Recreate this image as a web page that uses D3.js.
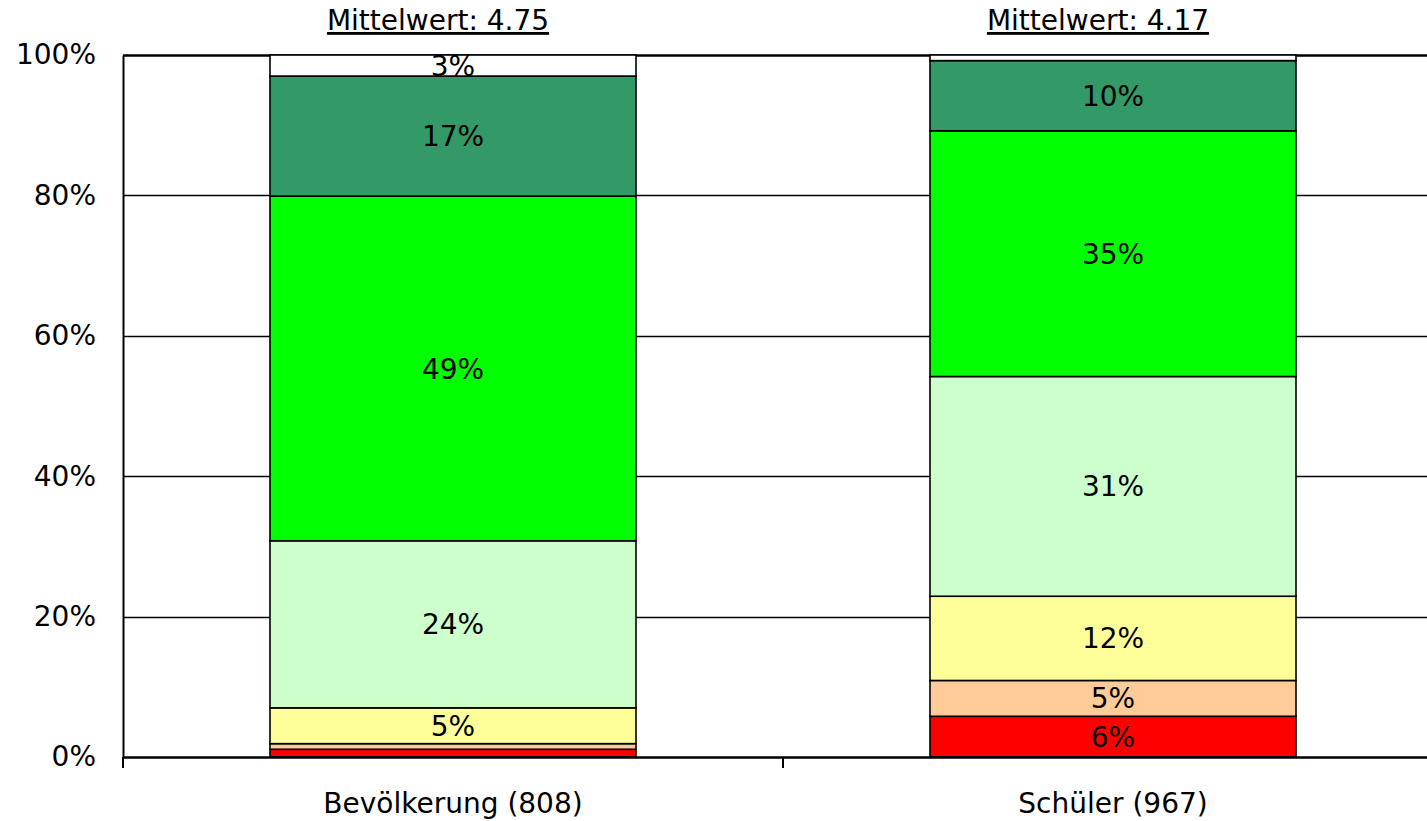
<!DOCTYPE html>
<html>
<head>
<meta charset="utf-8">
<script src="https://cdn.jsdelivr.net/npm/d3@7"></script>
<style>
html,body{margin:0;padding:0;background:#fff;}
svg{display:block;}
text{font-family:"DejaVu Sans",sans-serif;fill:#000;}
</style>
</head>
<body>
<svg id="chart" width="1427" height="821"></svg>
<script>
// Data
const categories = ["Bevölkerung (808)", "Schüler (967)"];
const meanLabels = ["Mittelwert: 4.75", "Mittelwert: 4.17"];
const seriesKeys = ["s1", "s2", "s3", "s4", "s5", "s6", "s7"];
const seriesColors = ["#FF0000", "#FFCC99", "#FFFF99", "#CCFFCC", "#00FF00", "#339966", "#FFFFFF"];
const valuesBevoelkerung = [1.1, 0.8, 5.1, 23.8, 49.1, 17.1, 3.0];
const valuesSchueler = [5.8, 5.1, 12.0, 31.3, 35.0, 10.0, 0.8];
const yTicks = [0, 20, 40, 60, 80, 100];

const rows = [valuesBevoelkerung, valuesSchueler].map((vals, i) => {
  const r = {cat: categories[i]};
  seriesKeys.forEach((k, j) => r[k] = vals[j]);
  return r;
});

const svg = d3.select("#chart");
const margin = {left: 123, top: 55, bottom: 64};
const plotH = 821 - margin.top - margin.bottom; // 702
const bandW = 660;

const x = d3.scaleBand().domain(categories).range([margin.left, margin.left + 2 * bandW]).paddingInner(0).paddingOuter(0);
const y = d3.scaleLinear().domain([0, 100]).range([margin.top + plotH, margin.top]);
const barW = 366;

const stack = d3.stack().keys(seriesKeys);
const stacked = stack(rows);

const fs = 28;

// gridlines
svg.append("g").selectAll("line").data(yTicks.filter(d => d > 0)).join("line")
  .attr("x1", margin.left).attr("x2", 1427)
  .attr("y1", d => Math.round(y(d)) + 0.5).attr("y2", d => Math.round(y(d)) + 0.5)
  .attr("stroke", "#000").attr("stroke-width", d => d === 100 ? 2.5 : 1.3);

// bars
const gBars = svg.append("g");
stacked.forEach((layer, li) => {
  gBars.append("g").selectAll("rect").data(layer).join("rect")
    .attr("x", d => x(d.data.cat) + (x.bandwidth() - barW) / 2)
    .attr("width", barW)
    .attr("y", d => y(d[1]))
    .attr("height", d => y(d[0]) - y(d[1]))
    .attr("fill", seriesColors[li])
    .attr("stroke", "#000").attr("stroke-width", 1.6);
});

// labels
stacked.forEach((layer, li) => {
  gBars.append("g").selectAll("text").data(layer.filter(d => d[1] - d[0] >= 2)).join("text")
    .attr("x", d => x(d.data.cat) + x.bandwidth() / 2)
    .attr("y", d => (y(d[0]) + y(d[1])) / 2)
    .attr("dy", "0.36em")
    .attr("text-anchor", "middle")
    .attr("font-size", fs)
    .text(d => Math.round(d[1] - d[0]) + "%");
});

// y axis
const yAxis = d3.axisLeft(y).tickValues(yTicks).tickFormat(d => d + "%").tickSize(0).tickPadding(27);
const gy = svg.append("g").attr("transform", `translate(${margin.left},0)`).call(yAxis);
gy.attr("font-family", null);
gy.select(".domain").attr("stroke", "#000").attr("stroke-width", 2);
gy.selectAll("text").attr("font-size", fs);

// x axis
const xAxis = d3.axisBottom(x).tickSize(0).tickPadding(36);
const gx = svg.append("g").attr("transform", `translate(0,${margin.top + plotH})`).call(xAxis);
gx.attr("font-family", null);
gx.select(".domain").attr("stroke", "#000").attr("stroke-width", 2.5);
gx.selectAll("text").attr("font-size", fs);
// category boundary ticks
const bounds = [margin.left, margin.left + bandW, margin.left + 2 * bandW];
gx.append("g").selectAll("line").data(bounds).join("line")
  .attr("x1", d => d).attr("x2", d => d).attr("y1", 0).attr("y2", 11)
  .attr("stroke", "#000").attr("stroke-width", 2);

// mean titles
const gm = svg.append("g");
categories.forEach((c, i) => {
  gm.append("text")
    .attr("x", x(c) + x.bandwidth() / 2 - 15)
    .attr("y", 30)
    .attr("text-anchor", "middle")
    .attr("font-size", fs)
    .attr("text-decoration", "underline")
    .text(meanLabels[i]);
});
</script>
</body>
</html>
